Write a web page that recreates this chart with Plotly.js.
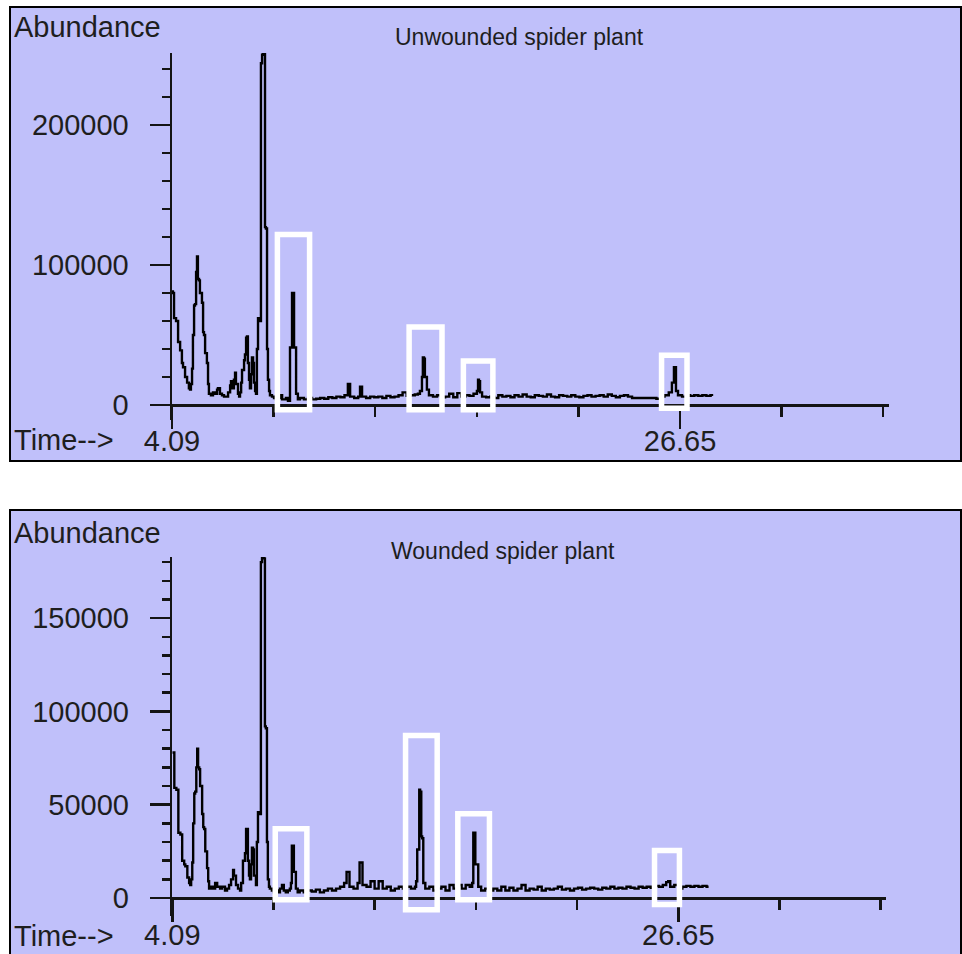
<!DOCTYPE html>
<html>
<head>
<meta charset="utf-8">
<script src="https://cdn.plot.ly/plotly-3.0.1.min.js"></script>
<style>
  html, body { margin: 0; padding: 0; background: #ffffff; }
  #chart { width: 962px; height: 954px; }
</style>
</head>
<body>
<div id="chart"></div>
<script>
// Total ion chromatograms (retention time in minutes, abundance in counts)

// Unwounded spider plant
const unwoundedTime = [
  4.09, 4.13, 4.18, 4.27, 4.36, 4.45, 4.53, 4.58, 4.67, 4.76, 4.84, 4.89, 4.93, 4.98, 5.02, 5.07,
  5.11, 5.16, 5.20, 5.24, 5.29, 5.33, 5.42, 5.47, 5.51, 5.56, 5.64, 5.69, 5.73, 5.82, 5.91, 6.00,
  6.09, 6.13, 6.22, 6.31, 6.40, 6.49, 6.58, 6.67, 6.71, 6.76, 6.84, 6.89, 6.93, 7.02, 7.07, 7.11,
  7.16, 7.20, 7.29, 7.33, 7.38, 7.42, 7.46, 7.51, 7.55, 7.60, 7.64, 7.69, 7.73, 7.78, 7.82, 7.86,
  7.91, 7.95, 8.00, 8.04, 8.09, 8.13, 8.17, 8.22, 8.26, 8.31, 8.35, 8.40, 8.44, 8.53, 8.62, 8.71,
  8.80, 8.89, 8.98, 9.06, 9.15, 9.24, 9.33, 9.38, 9.42, 9.46, 9.51, 9.55, 9.60, 9.68, 9.77, 9.95,
  10.13, 10.31, 10.49, 10.67, 10.85, 11.03, 11.21, 11.39, 11.57, 11.75, 11.90, 11.95, 12.00, 12.18, 12.36, 12.44,
  12.48, 12.53, 12.71, 12.89, 13.07, 13.25, 13.43, 13.61, 13.79, 13.97, 14.15, 14.33, 14.38, 14.51, 14.69, 14.87,
  15.01, 15.10, 15.19, 15.23, 15.28, 15.32, 15.41, 15.50, 15.68, 15.86, 16.04, 16.22, 16.40, 16.45, 16.58, 16.76,
  16.81, 16.94, 17.12, 17.30, 17.48, 17.63, 17.68, 17.72, 17.77, 17.86, 18.04, 18.22, 18.40, 18.58, 18.76, 18.94,
  19.12, 19.30, 19.48, 19.66, 19.84, 20.02, 20.20, 20.38, 20.56, 20.74, 20.92, 21.10, 21.28, 21.46, 21.64, 21.82,
  22.00, 22.18, 22.36, 22.54, 22.72, 22.90, 23.08, 23.26, 23.44, 23.62, 23.80, 23.98, 24.16, 24.34, 24.52, 24.70,
  24.88, 25.06, 25.24, 25.42, 25.60, 25.78, 25.96, 26.15, 26.29, 26.33, 26.38, 26.42, 26.47, 26.56, 26.74, 26.92,
  27.10, 27.28, 27.46, 27.64, 27.82, 28.00, 28.07
];
const unwoundedAbundance = [
  81000, 80000, 62000, 60000, 45000, 39000, 30000, 27000, 20000, 16000, 12000, 11000, 15000, 26000, 50000, 71000,
  72000, 95000, 106000, 90000, 89000, 80000, 73000, 52000, 50000, 37000, 30000, 15000, 8000, 7000, 9000, 8000,
  11000, 12000, 8000, 7000, 6000, 6000, 9000, 14000, 17000, 12000, 18000, 23000, 15000, 8000, 6000, 9000,
  16000, 25000, 32000, 36000, 48000, 49000, 30000, 18000, 12000, 22000, 34000, 30000, 16000, 10000, 8000, 40000,
  62000, 62000, 60000, 244000, 250000, 252000, 252000, 127000, 126000, 40000, 18000, 10000, 7000, 6000, 5000, 4000,
  5000, 7000, 4000, 4000, 5000, 3000, 41000, 41000, 80000, 80000, 41000, 41000, 8000, 4000, 5000, 4000,
  5000, 4000, 4500, 5000, 4500, 5500, 5000, 6000, 5500, 7000, 15000, 15000, 6000, 5000, 6000, 13000,
  13000, 6000, 5000, 6000, 5500, 6000, 5000, 6500, 5500, 6000, 7000, 9000, 9000, 6500, 7000, 7500,
  8000, 10000, 20000, 34000, 33000, 20000, 11000, 7000, 6000, 7000, 5500, 6000, 8000, 8000, 5500, 8500,
  8500, 6000, 7000, 6500, 8000, 10000, 18000, 17000, 9000, 6000, 5500, 6000, 5000, 7000, 6000, 6500,
  5500, 7000, 6000, 7500, 6000, 5500, 7000, 6500, 6000, 7500, 6000, 5500, 7000, 6500, 6000, 7000,
  6000, 5500, 6500, 7000, 6000, 6500, 7000, 6000, 7500, 6500, 5500, 6500, 7000, 6000, 5000, 5000,
  5000, 5000, 5000, 5000, 4500, 6000, 7000, 9000, 16000, 16000, 27000, 27000, 10000, 7000, 6000, 7000,
  6500, 7000, 6500, 7000, 6500, 7000, 6500
];

// Wounded spider plant
const woundedTime = [
  4.09, 4.13, 4.18, 4.27, 4.36, 4.45, 4.53, 4.62, 4.67, 4.76, 4.84, 4.89, 4.93, 4.98, 5.02, 5.07,
  5.11, 5.16, 5.20, 5.24, 5.29, 5.33, 5.42, 5.47, 5.51, 5.56, 5.64, 5.69, 5.73, 5.82, 5.91, 6.00,
  6.09, 6.22, 6.31, 6.44, 6.53, 6.62, 6.71, 6.80, 6.84, 6.93, 7.02, 7.11, 7.16, 7.24, 7.33, 7.38,
  7.42, 7.46, 7.51, 7.55, 7.60, 7.64, 7.69, 7.73, 7.82, 7.86, 7.91, 7.95, 8.00, 8.04, 8.09, 8.13,
  8.17, 8.22, 8.26, 8.31, 8.35, 8.40, 8.44, 8.53, 8.62, 8.71, 8.80, 8.89, 8.98, 9.06, 9.15, 9.24,
  9.33, 9.38, 9.42, 9.46, 9.51, 9.55, 9.60, 9.68, 9.77, 9.95, 10.13, 10.31, 10.49, 10.67, 10.85, 11.03,
  11.21, 11.39, 11.57, 11.75, 11.86, 11.90, 11.99, 12.17, 12.35, 12.44, 12.48, 12.57, 12.75, 12.93, 13.11, 13.29,
  13.47, 13.65, 13.83, 14.01, 14.19, 14.37, 14.55, 14.73, 14.91, 14.96, 15.01, 15.06, 15.10, 15.14, 15.19, 15.23,
  15.28, 15.37, 15.55, 15.73, 15.91, 16.09, 16.27, 16.45, 16.63, 16.81, 16.99, 17.17, 17.35, 17.46, 17.51, 17.55,
  17.60, 17.68, 17.73, 17.86, 18.04, 18.22, 18.40, 18.58, 18.76, 18.94, 19.12, 19.30, 19.48, 19.66, 19.84, 20.02,
  20.20, 20.38, 20.56, 20.74, 20.92, 21.10, 21.28, 21.46, 21.64, 21.82, 22.00, 22.18, 22.36, 22.54, 22.72, 22.90,
  23.08, 23.26, 23.44, 23.62, 23.80, 23.98, 24.16, 24.34, 24.52, 24.70, 24.88, 25.06, 25.24, 25.42, 25.60, 25.78,
  25.96, 26.11, 26.20, 26.29, 26.47, 26.65, 26.83, 27.01, 27.19, 27.37, 27.55, 27.73, 27.91, 28.00
];
const woundedAbundance = [
  78000, 78000, 59000, 58000, 35000, 34000, 20000, 18000, 17000, 11000, 8000, 7000, 10000, 19000, 40000, 56000,
  57000, 70000, 80000, 70000, 69000, 60000, 45000, 38000, 37000, 25000, 16000, 9000, 5000, 6000, 5000, 8000,
  6000, 5000, 6000, 4000, 5000, 7000, 10000, 15000, 12000, 7000, 5000, 4000, 8000, 20000, 24000, 37000,
  37000, 20000, 12000, 10000, 18000, 27000, 26000, 12000, 7000, 30000, 46000, 46000, 45000, 180000, 183000, 183000,
  182000, 92000, 91000, 30000, 10000, 6000, 5000, 4000, 3000, 4000, 3000, 5000, 7000, 4000, 3000, 4000,
  5000, 8000, 28000, 28000, 14000, 14000, 5000, 3000, 4000, 3000, 4000, 3500, 4500, 3000, 4000, 5000,
  4000, 5000, 6000, 8000, 14000, 14000, 6000, 5000, 8000, 19000, 19000, 7000, 6000, 9000, 5000, 9000,
  5000, 6000, 4000, 5000, 6000, 5000, 6000, 5000, 6000, 9000, 26000, 26000, 58000, 57000, 33000, 32000,
  8000, 5000, 6000, 4000, 5000, 6000, 4000, 7000, 5000, 7000, 5000, 7000, 6000, 8000, 35000, 35000,
  18000, 18000, 6000, 4000, 5000, 4000, 5000, 4000, 6000, 4000, 5500, 4000, 5000, 7000, 4000, 5000,
  4500, 6000, 4000, 5000, 4500, 5000, 6000, 4500, 5000, 4000, 5000, 5500, 4500, 5000, 5500, 5000,
  4500, 5500, 5000, 6000, 5000, 5500, 5000, 6000, 5500, 5000, 6000, 5500, 6000, 5500, 6500, 6000,
  7000, 8500, 9000, 6000, 7000, 5000, 6000, 6500, 6000, 6500, 6000, 6500, 6000, 6000
];

// Highlighted peak windows: [start time, end time, low abundance, high abundance]
const unwoundedWindows = [
  [8.77, 10.20, -3400, 121700],
  [14.62, 16.08, -3400, 55700],
  [17.03, 18.34, -3400, 31400],
  [25.83, 26.96, -2400, 35500]
];
const woundedWindows = [
  [8.68, 10.09, -900, 37100],
  [14.49, 15.90, -6300, 87100],
  [16.82, 18.23, -900, 45200],
  [25.59, 26.70, -3500, 25500]
];

// Axis labelling
const timeLabels = ['4.09', '26.65'];
const timeLabelValues = [4.09, 26.65];
const timeTickStep = 4.512;
const unwoundedTicks = [0, 100000, 200000];
const woundedTicks = [0, 50000, 100000, 150000];

// ---------------------------------------------------------------
const W = 962, H = 954;
const fx = p => p / W;          // pixel column -> paper fraction
const fy = p => 1 - p / H;      // pixel row    -> paper fraction

const INK = '#141414';
const PANEL = '#c0c0fa';
const FONT = 'Arial, "Liberation Sans", sans-serif';
const tickFont = { family: FONT, size: 29, color: '#1e1e1e' };

function timeAxis(domain, range, zeroRow, standoff) {
  return {
    domain: domain, range: range, anchor: 'free', position: fy(zeroRow),
    showline: true, linecolor: INK, linewidth: 2.5,
    showgrid: false, zeroline: false,
    tickmode: 'array', tickvals: timeLabelValues, ticktext: timeLabels,
    ticks: 'outside', ticklen: 22, tickwidth: 2.5, tickcolor: INK,
    minor: { tick0: timeLabelValues[0], dtick: timeTickStep, ticks: 'outside',
             ticklen: 10, tickwidth: 2.5, tickcolor: INK, showgrid: false },
    tickfont: tickFont, ticklabelstandoff: standoff, fixedrange: true
  };
}
function abundanceAxis(domain, range, ticks, minorStep, anchor) {
  return {
    domain: domain, range: range, anchor: anchor,
    showline: true, linecolor: INK, linewidth: 2.5,
    showgrid: false, zeroline: false,
    tickmode: 'array', tickvals: ticks, tickformat: 'd',
    ticks: 'outside', ticklen: 20, tickwidth: 2.5, tickcolor: INK,
    minor: { dtick: minorStep, tick0: 0, ticks: 'outside', ticklen: 8,
             tickwidth: 2.5, tickcolor: INK, showgrid: false },
    tickfont: tickFont, ticklabelstandoff: 15, fixedrange: true
  };
}

function windowShapes(list, xr, yr) {
  return list.map(w => ({
    type: 'rect', xref: xr, yref: yr, x0: w[0], x1: w[1], y0: w[2], y1: w[3],
    line: { color: '#ffffff', width: 5.5 }, fillcolor: 'rgba(0,0,0,0)', layer: 'above'
  }));
}

// step-wise trace: each scan holds its value until the next scan
const traces = [
  { x: unwoundedTime, y: unwoundedAbundance, xaxis: 'x', yaxis: 'y', type: 'scatter', mode: 'lines',
    line: { color: '#000000', width: 2.4, shape: 'hv' }, hoverinfo: 'skip' },
  { x: woundedTime, y: woundedAbundance, xaxis: 'x2', yaxis: 'y2', type: 'scatter', mode: 'lines',
    line: { color: '#000000', width: 2.4, shape: 'hv' }, hoverinfo: 'skip' }
];

const panels = [
  { type: 'rect', xref: 'paper', yref: 'paper', x0: fx(10), x1: fx(961), y0: fy(461), y1: fy(7),
    fillcolor: PANEL, line: { color: '#000000', width: 2 }, layer: 'below' },
  { type: 'rect', xref: 'paper', yref: 'paper', x0: fx(10), x1: fx(961), y0: fy(957), y1: fy(510),
    fillcolor: PANEL, line: { color: '#000000', width: 2 }, layer: 'below' }
];

function label(text, x, y, size, xanchor) {
  return { text: text, xref: 'paper', yref: 'paper', x: fx(x), y: fy(y),
           xanchor: xanchor, yanchor: 'middle', showarrow: false,
           font: { family: FONT, size: size, color: '#1e1e1e' } };
}

const layout = {
  width: W, height: H,
  margin: { l: 0, r: 0, t: 0, b: 0 },
  paper_bgcolor: '#ffffff', plot_bgcolor: 'rgba(0,0,0,0)',
  showlegend: false, hovermode: false,
  xaxis: timeAxis([fx(172), fx(889)], [4.09, 35.93], 405, -12),
  yaxis: abundanceAxis([fy(420), fy(53)], [-10710, 251300], unwoundedTicks, 20000, 'x'),
  xaxis2: timeAxis([fx(172.3), fx(886)], [4.09, 35.91], 898, -11),
  yaxis2: abundanceAxis([fy(916), fy(557)], [-9646, 182742], woundedTicks, 10000, 'x2'),
  shapes: panels
    .concat(windowShapes(unwoundedWindows, 'x', 'y'))
    .concat(windowShapes(woundedWindows, 'x2', 'y2')),
  annotations: [
    label('Abundance', 12, 27, 29, 'left'),
    label('Unwounded spider plant', 519, 37, 23, 'center'),
    label('Time--&gt;', 12, 440, 29, 'left'),
    label('Abundance', 12, 533, 29, 'left'),
    label('Wounded spider plant', 503, 551, 23, 'center'),
    label('Time--&gt;', 12, 936, 29, 'left')
  ]
};

Plotly.newPlot('chart', traces, layout, { staticPlot: true, displayModeBar: false });
</script>
</body>
</html>
